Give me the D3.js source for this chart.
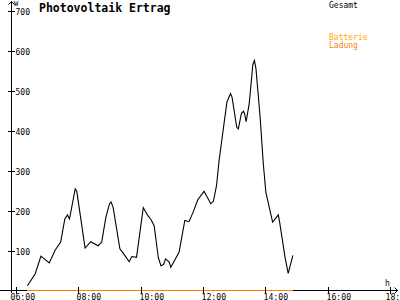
<!DOCTYPE html>
<html>
<head>
<meta charset="utf-8">
<script src="https://cdn.jsdelivr.net/npm/d3@7"></script>
<style>
  html, body { margin: 0; padding: 0; background: #fff; }
  svg { display: block; }
  text { font-family: "DejaVu Sans Mono", "Liberation Mono", monospace; }
</style>
</head>
<body>
<svg id="chart" width="400" height="300"></svg>
<script>
// ---- data ----
const times = ["06:22","06:37","06:48","07:04","07:15","07:26","07:34","07:39","07:43","07:54","07:57",
  "08:13","08:24","08:38","08:45","08:53","09:00","09:03","09:07","09:20","09:27","09:38","09:43","09:52",
  "10:05","10:14","10:20","10:26","10:34","10:39","10:44","10:48","10:55","10:58","11:06","11:14","11:25",
  "11:33","11:41","11:50","12:02","12:15","12:20","12:26","12:31","12:46","12:53","12:56","13:05","13:08",
  "13:14","13:18","13:20","13:23","13:29","13:36","13:39","13:42","13:50","13:56","14:01","14:14","14:19",
  "14:25","14:28","14:38","14:44","14:53"];
const gesamt = [12,42,86,69,100,121,179,189,179,254,248,
  106,122,112,121,183,217,221,208,104,92,72,85,83,
  207,187,177,162,82,62,65,79,71,58,77,96,175,
  172,196,227,248,217,223,262,325,471,492,483,408,404,
  443,448,442,422,467,565,575,554,433,318,246,171,179,
  189,167,83,43,88];
const ladungStart = "06:22";
const ladungEnd = "14:53";
const xTicks = ["06:00","08:00","10:00","12:00","14:00","16:00","18:00"];
const xTickLabels = ["06:00","08:00","10:00","12:00","14:00","16:00","18:"];
const yTicks = [100,200,300,400,500,600,700];
const title = "Photovoltaik Ertrag";
const legend = [
  {label: "Gesamt", color: "#000000", y: 7.5},
  {label: "Batterie", color: "#ffaa00", y: 39.5},
  {label: "Ladung", color: "#ff8000", y: 47.5}
];

// ---- helpers ----
const toH = s => { const [h, m] = s.split(":").map(Number); return h + m / 60; };

const svg = d3.select("#chart");
const x = d3.scaleLinear().domain([6, 18]).range([16, 390]);
const y = d3.scaleLinear().domain([0, 700]).range([290.5, 10.5]);
const axisX = 11.5;
const axisY = 290.5;

// data line
const pts = times.map((t, i) => [toH(t), gesamt[i]]);
svg.append("path")
  .datum(pts)
  .attr("d", d3.line().x(d => x(d[0])).y(d => y(d[1])))
  .attr("fill", "none")
  .attr("stroke", "#000")
  .attr("stroke-width", 1.1);

// x axis line
svg.append("line").attr("x1", 0).attr("x2", 398).attr("y1", axisY).attr("y2", axisY)
  .attr("stroke", "#000").attr("shape-rendering", "crispEdges");
// arrow right
svg.append("path").attr("d", `M394.5,287.5 L397.5,${axisY} L394.5,293.5`)
  .attr("fill", "none").attr("stroke", "#000");
// y axis line
svg.append("line").attr("x1", axisX).attr("x2", axisX).attr("y1", 1).attr("y2", 293)
  .attr("stroke", "#000").attr("shape-rendering", "crispEdges");
// arrow top
svg.append("path").attr("d", `M8.5,4.5 L${axisX},1.5 L14.5,4.5`)
  .attr("fill", "none").attr("stroke", "#000");

// ladung (orange) along baseline
svg.append("line")
  .attr("x1", x(toH(ladungStart))).attr("x2", x(toH(ladungEnd)))
  .attr("y1", axisY).attr("y2", axisY)
  .attr("stroke", "#ff8000").attr("stroke-width", 1.3).attr("shape-rendering", "crispEdges");

// x ticks
xTicks.forEach((t, i) => {
  const xx = Math.round(x(toH(t))) + 0.5;
  svg.append("line").attr("x1", xx).attr("x2", xx).attr("y1", 287).attr("y2", 294)
    .attr("stroke", "#000").attr("shape-rendering", "crispEdges");
  svg.append("text")
    .attr("x", i === 0 ? xx - 6 : (i === xTicks.length - 1 ? xx - 5 : xx - 2))
    .attr("y", 299.5)
    .attr("font-size", "8.2px")
    .attr("fill", "#000")
    .text(xTickLabels[i]);
});

// y ticks
yTicks.forEach(v => {
  const yy = Math.round(y(v)) + 0.5;
  svg.append("line").attr("x1", 8).attr("x2", 15).attr("y1", yy).attr("y2", yy)
    .attr("stroke", "#000").attr("shape-rendering", "crispEdges");
  svg.append("text")
    .attr("x", 15.5)
    .attr("y", yy + 3)
    .attr("font-size", "8px")
    .attr("fill", "#000")
    .text(v);
});

// unit labels
svg.append("text").attr("x", 14).attr("y", 6).attr("font-size", "7px").text("W");
svg.append("text").attr("x", 385).attr("y", 285.5).attr("font-size", "8px").text("h");

// title
svg.append("text").attr("x", 39).attr("y", 11.5)
  .attr("font-size", "11.5px").attr("font-weight", "bold").text(title);

// legend
legend.forEach(l => {
  svg.append("text").attr("x", 329).attr("y", l.y)
    .attr("font-size", "8px").attr("fill", l.color).text(l.label);
});
</script>
</body>
</html>
